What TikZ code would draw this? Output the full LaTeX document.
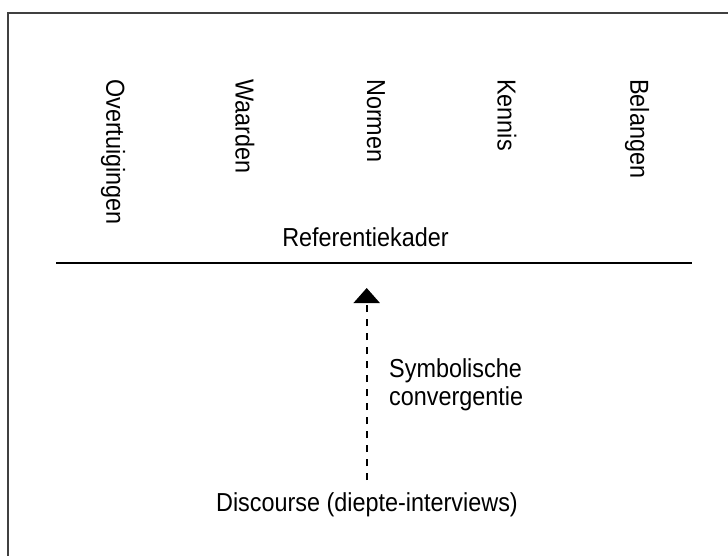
\documentclass[tikz,border=0pt]{standalone}
\usepackage{fontspec}
\setmainfont{Liberation Sans}[FakeStretch=0.9]
\usetikzlibrary{arrows.meta}
\begin{document}
\begin{tikzpicture}[x=1pt,y=-1pt,
  lbl/.style={inner sep=0pt,font=\fontsize{26}{28}\selectfont},
  vlbl/.style={lbl,rotate=-90,anchor=west},
  frame/.style={draw=black!75,line width=2pt},
  rule/.style={draw=black,line width=2pt},
  flow/.style={draw=black,line width=2pt,dash pattern=on 7pt off 7pt,-{Triangle[width=26pt,length=15pt]}}]
\useasboundingbox (0,0) rectangle (728,556);
\draw[frame] (8,13) rectangle (745,575);
\node[vlbl] (o) at (113,79) {Overtuigingen};
\node[vlbl] (w) at (245,79) {Waarden};
\node[vlbl] (n) at (376,79) {Normen};
\node[vlbl] (k) at (507,79) {Kennis};
\node[vlbl] (b) at (637,79) {Belangen};
\node[lbl,anchor=base] (ref) at (365.5,247) {Referentiekader};
\coordinate (l1) at (56,263);
\coordinate (l2) at (692,263);
\draw[rule] (l1) -- (l2);
\node[lbl,anchor=base] (src) at (367,511) {Discourse (diepte-interviews)};
\coordinate (tip) at (366.7,288);
\coordinate (tail) at (366.7,480);
\draw[flow] (tail) -- (tip);
\node[lbl,anchor=north west,align=left] (sc) at (389,358) {Symbolische\\convergentie};
\end{tikzpicture}
\end{document}
